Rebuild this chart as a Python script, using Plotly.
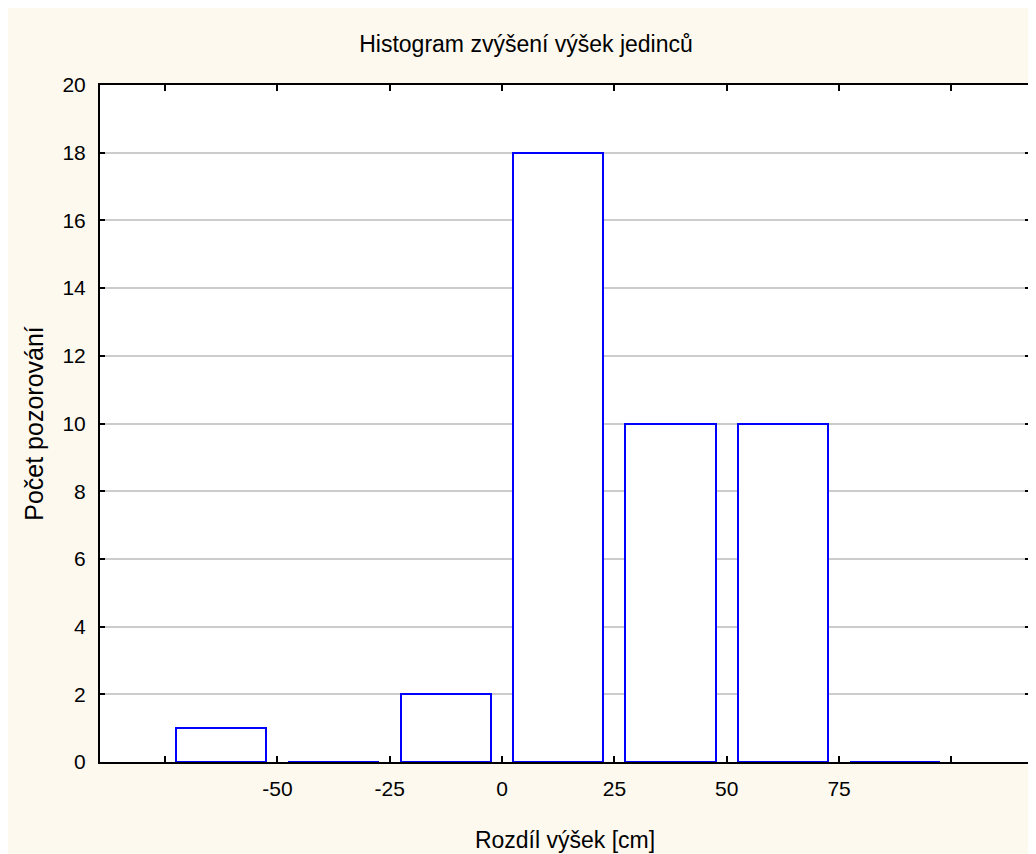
import plotly.graph_objects as go

bin_centers = [-62.5, -37.5, -12.5, 12.5, 37.5, 62.5, 87.5]
counts = [1, 0, 2, 18, 10, 10, 0]
tick_values = [-75, -50, -25, 0, 25, 50, 75, 100]
tick_labels = ["", "-50", "-25", "0", "25", "50", "75", ""]
y_ticks = list(range(0, 21, 2))

FONT = "Liberation Sans, Arial, sans-serif"

fig = go.Figure()
fig.add_trace(go.Bar(
    x=bin_centers, y=counts, width=20.1,
    marker=dict(color="white", line=dict(color="#0000FF", width=2)),
    showlegend=False,
))

fig.update_layout(
    width=1036, height=854,
    paper_bgcolor="#FDF9EF", plot_bgcolor="white",
    margin=dict(l=92, r=12, t=77, b=100),
    font=dict(family=FONT, size=21, color="black"),
    title=dict(text="Histogram zvýšení výšek jedinců", x=0.5, xanchor="center",
               y=0.958, yanchor="middle", font=dict(size=23)),
    bargap=0,
)
fig.update_xaxes(
    range=[-89.5, 117.5], tickvals=tick_values, ticktext=tick_labels,
    showgrid=False, zeroline=False,
    showline=True, linecolor="black", linewidth=2, mirror="allticks",
    ticks="inside", ticklen=6, tickcolor="black", tickwidth=2,
    ticklabelstandoff=7,
    title=dict(text="Rozdíl výšek [cm]", standoff=33, font=dict(size=23)),
)
fig.update_yaxes(
    range=[0, 20], tickvals=y_ticks,
    showgrid=True, gridcolor="#CCCCCC", gridwidth=1.5, zeroline=False,
    showline=True, linecolor="black", linewidth=2, mirror="allticks",
    ticks="inside", ticklen=5, tickcolor="black", tickwidth=2,
    ticklabelstandoff=8,
    title=dict(text="Počet pozorování", standoff=12, font=dict(size=25)),
)

fig.write_html("out.html")
